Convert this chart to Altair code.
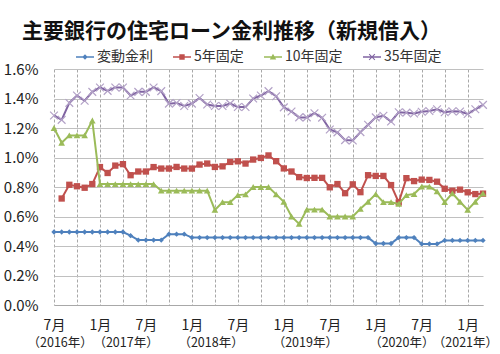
import json
import altair as alt
import pandas as pd

# ---------------- data ----------------
months = list(range(57))  # 0 = 2016/07 ... 56 = 2021/03
series_names = ["変動金利", "5年固定", "10年固定", "35年固定"]
series_colors = ["#4F81BD", "#C0504D", "#9BBB59", "#8064A2"]

variable = [0.495, 0.495, 0.495, 0.495, 0.495, 0.495, 0.495, 0.495, 0.495, 0.495,
            0.47, 0.44, 0.44, 0.44, 0.44, 0.48, 0.48, 0.48,
            0.457, 0.457, 0.457, 0.457, 0.457, 0.457, 0.457, 0.457, 0.457, 0.457,
            0.457, 0.457, 0.457, 0.457, 0.457, 0.457, 0.457, 0.457, 0.457, 0.457,
            0.457, 0.457, 0.457, 0.457,
            0.417, 0.417, 0.417, 0.457, 0.457, 0.457, 0.414, 0.414, 0.414,
            0.438, 0.438, 0.438, 0.438, 0.438, 0.438]

fixed5 = [None, 0.722, 0.815, 0.805, 0.795, 0.82, 0.935, 0.895, 0.945, 0.955,
          0.88, 0.905, 0.905, 0.935, 0.925, 0.925, 0.936, 0.925, 0.925, 0.952,
          0.959, 0.936, 0.94, 0.97, 0.974, 0.959, 0.986, 0.997, 1.014, 0.975,
          0.926, 0.905, 0.867, 0.861, 0.862, 0.862, 0.798, 0.82, 0.758, 0.818,
          0.765, 0.88, 0.875, 0.875, 0.813, 0.695, 0.86, 0.84, 0.85, 0.848,
          0.836, 0.788, 0.775, 0.782, 0.764, 0.752, 0.755]

fixed10 = [1.20, 1.10, 1.15, 1.15, 1.15, 1.25, 0.82, 0.82, 0.82, 0.82,
           0.82, 0.82, 0.82, 0.82, 0.775, 0.775, 0.775, 0.775, 0.775, 0.775,
           0.775, 0.645, 0.697, 0.697, 0.745, 0.75, 0.80, 0.80, 0.80, 0.75,
           0.70, 0.60, 0.55, 0.647, 0.647, 0.647, 0.60, 0.60, 0.60, 0.60,
           0.652, 0.70, 0.752, 0.697, 0.697, 0.685, 0.745, 0.752, 0.803, 0.803,
           0.77, 0.697, 0.757, 0.70, 0.645, 0.70, 0.757]

fixed35 = [1.285, 1.255, 1.37, 1.42, 1.385, 1.445, 1.475, 1.452, 1.475, 1.475,
           1.42, 1.445, 1.445, 1.475, 1.45, 1.365, 1.37, 1.349, 1.365, 1.403,
           1.359, 1.349, 1.349, 1.365, 1.342, 1.342, 1.40, 1.42, 1.45, 1.415,
           1.34, 1.312, 1.272, 1.272, 1.30, 1.27, 1.19, 1.17, 1.118, 1.115,
           1.172, 1.222, 1.272, 1.283, 1.244, 1.307, 1.304, 1.298, 1.31, 1.315,
           1.327, 1.307, 1.314, 1.312, 1.295, 1.327, 1.357]

y_ticks = [0.0, 0.2, 0.4, 0.6, 0.8, 1.0, 1.2, 1.4, 1.6]
x_ticks = list(range(0, 55, 3))
x_tick_labels = ["7月", "", "1月", "", "7月", "", "1月", "", "7月", "",
                 "1月", "", "7月", "", "1月", "", "7月", "", "1月"]
year_labels = ["（2016年）", "（2017年）", "（2018年）", "（2019年）", "（2020年）", "（2021年）"]
year_label_month = [0.8, 9.4, 20.5, 32.8, 45.4, 53.7]

chart_title = "主要銀行の住宅ローン金利推移（新規借入）"

# ---------------- build ----------------
rows = []
for name, vals in zip(series_names, [variable, fixed5, fixed10, fixed35]):
    for m, v in zip(months, vals):
        if v is not None:
            rows.append({"month": m, "series": name, "rate": v})
df = pd.DataFrame(rows)

FONT = "Noto Sans CJK JP"

x_scale = alt.Scale(domain=[0, 56], nice=False, zero=False)
y_scale = alt.Scale(domain=[0, 1.6], nice=False)

x_axis = alt.Axis(
    values=x_ticks,
    labelExpr=json.dumps(x_tick_labels, ensure_ascii=False) + "[round(datum.value / 3)]",
    grid=True, gridDash=[3, 2], gridColor="#a8a8a8", gridWidth=1,
    ticks=False, domain=True, domainColor="#a8a8a8", domainWidth=1,
    labelFont=FONT, labelFontSize=14, labelColor="#222222",
    labelPadding=20, labelBaseline="middle", labelFlush=False, labelOverlap=False,
    title=None,
)
y_axis = alt.Axis(
    values=y_ticks,
    labelExpr="format(datum.value, '.1f') + '%'",
    grid=True, gridColor="#c0c0c0", gridWidth=1,
    ticks=False, domain=False,
    labelFont=FONT, labelFontSize=15, labelColor="#222222", labelPadding=16,
    title=None,
)

x_enc = alt.X("month:Q", scale=x_scale, axis=x_axis)
y_enc = alt.Y("rate:Q", scale=y_scale, axis=y_axis)

marker_specs = {
    "変動金利": dict(shape="diamond", filled=True, size=28),
    "5年固定": dict(shape="square", filled=True, size=40),
    "10年固定": dict(shape="triangle-up", filled=True, size=45),
    "35年固定": dict(shape="M-1,-1L1,1M-1,1L1,-1", filled=False, size=60),
}

layers = []
for name, col in zip(series_names, series_colors):
    base = alt.Chart(df).transform_filter(alt.datum.series == name)
    line = base.mark_line(color=col, strokeWidth=2).encode(x=x_enc, y=y_enc)
    spec = marker_specs[name]
    if spec["filled"]:
        pts = base.mark_point(shape=spec["shape"], filled=True, color=col,
                              size=spec["size"], opacity=1).encode(x=x_enc, y=y_enc)
    else:
        pts = base.mark_point(shape=spec["shape"], filled=False, color="#B3A2C7",
                              strokeWidth=1.2, size=spec["size"], opacity=1).encode(x=x_enc, y=y_enc)
    layers += [line, pts]

# legend (line + marker symbols)
bar = "M-1,-0.09H1V0.09H-1Z"
legend_paths = [
    bar + "M0,-0.3L0.3,0L0,0.3L-0.3,0Z",
    bar + "M-0.3,-0.3H0.3V0.3H-0.3Z",
    bar + "M0,-0.36L0.36,0.28H-0.36Z",
    bar + "M-0.36,-0.28L-0.28,-0.36L0,-0.08L0.28,-0.36L0.36,-0.28L0.08,0L0.36,0.28L0.28,0.36L0,0.08L-0.28,0.36L-0.36,0.28L-0.08,0Z",
]
legend_params = dict(
    orient="none", legendX=22, legendY=-21, direction="horizontal", columns=4,
    title=None, labelFont=FONT, labelFontSize=14, labelColor="#333333",
    symbolSize=324, symbolStrokeWidth=0, columnPadding=20, labelOffset=3, padding=0,
)
legend_df = pd.DataFrame({"series": series_names})
legend_layer = alt.Chart(legend_df).transform_filter("false").mark_point(
    filled=True, opacity=1
).encode(
    color=alt.Color("series:N", scale=alt.Scale(domain=series_names, range=series_colors),
                    legend=alt.Legend(**legend_params)),
    shape=alt.Shape("series:N", scale=alt.Scale(domain=series_names, range=legend_paths),
                    legend=alt.Legend(**legend_params)),
)
layers.append(legend_layer)

year_df = pd.DataFrame({"month": year_label_month, "label": year_labels})
year_layer = alt.Chart(year_df).mark_text(
    font=FONT, fontSize=12.5, baseline="middle", align="center", color="#222222"
).encode(x=alt.X("month:Q", scale=x_scale, axis=x_axis), y=alt.value(274), text="label:N")
layers.append(year_layer)

chart = alt.layer(*layers).properties(
    width=429, height=236,
    title=alt.TitleParams(chart_title, font=FONT, fontSize=21, fontWeight="bold",
                          color="#111111", anchor="start", frame="group", dx=-32, offset=6),
    padding={"left": 54, "top": 69, "right": 17, "bottom": 49},
    autosize=alt.AutoSizeParams(type="none"),
    background="white",
).configure_view(stroke=None)

chart.save("out.html", embed_options={"renderer": "svg", "actions": False})
